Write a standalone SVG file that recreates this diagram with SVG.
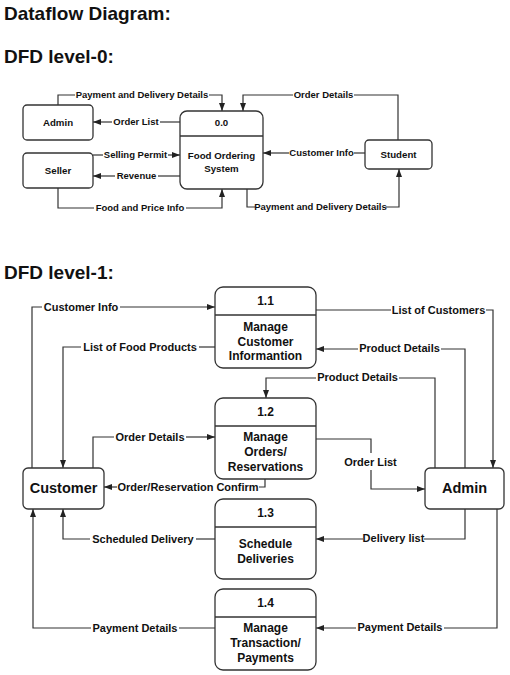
<svg xmlns="http://www.w3.org/2000/svg" width="510" height="675" viewBox="0 0 510 675">
<defs>
<marker id="arr" viewBox="0 0 8 6" refX="8" refY="3" markerWidth="8" markerHeight="6" markerUnits="userSpaceOnUse" orient="auto">
<path d="M0,0 L8,3 L0,6 Z" fill="#222"/>
</marker>
</defs>
<style>
.h{font-family:"Liberation Sans",Arial,sans-serif;font-weight:bold;font-size:19px;fill:#111}
.box{fill:#fff;stroke:#333;stroke-width:1.3}
.div{stroke:#333;stroke-width:1.3}
.n0{font-family:"Liberation Sans",Arial,sans-serif;font-weight:bold;font-size:9.7px;fill:#111;text-anchor:middle}
.n1{font-family:"Liberation Sans",Arial,sans-serif;font-weight:bold;font-size:12px;fill:#111;text-anchor:middle}
.ne{font-family:"Liberation Sans",Arial,sans-serif;font-weight:bold;font-size:14.5px;fill:#111;text-anchor:middle}
.l0{font-family:"Liberation Sans",Arial,sans-serif;font-weight:bold;font-size:9.5px;fill:#111;text-anchor:middle}
.l1{font-family:"Liberation Sans",Arial,sans-serif;font-weight:bold;font-size:11px;fill:#111;text-anchor:middle}
.c{fill:none;stroke:#333;stroke-width:1.2}
.a{marker-end:url(#arr)}
</style>
<rect width="510" height="675" fill="#fff"/>
<text class="h" x="4" y="20">Dataflow Diagram:</text>
<text class="h" x="4" y="63">DFD level-0:</text>
<text class="h" x="4" y="279">DFD level-1:</text>

<g id="connectors">
<!-- level 0 -->
<path class="c" d="M58,105 V95 H75"/><path class="c a" d="M209,95 H222 V111"/>
<text class="l0" x="142" y="98.4">Payment and Delivery Details</text>
<path class="c" d="M398,140 V95 H354"/><path class="c a" d="M293,95 H243 V111"/>
<text class="l0" x="323.5" y="98.4">Order Details</text>
<path class="c" d="M180,122 H160"/><path class="c a" d="M112,122 H93"/>
<text class="l0" x="136" y="125.4">Order List</text>
<path class="c" d="M93,155 H103"/><path class="c a" d="M168,155 H180"/>
<text class="l0" x="135.5" y="158.4">Selling Permit</text>
<path class="c" d="M180,176 H158"/><path class="c a" d="M115,176 H93"/>
<text class="l0" x="136.5" y="179.4">Revenue</text>
<path class="c" d="M58,188 V208 H94"/><path class="c a" d="M186,208 H222 V189"/>
<text class="l0" x="140" y="211.4">Food and Price Info</text>
<path class="c" d="M365,153 H354"/><path class="c a" d="M289,153 H263"/>
<text class="l0" x="321.5" y="156.4">Customer Info</text>
<path class="c" d="M247,189 V207 H255"/><path class="c a" d="M386,207 H399 V169"/>
<text class="l0" x="320.5" y="210.4">Payment and Delivery Details</text>
<!-- level 1 -->
<path class="c" d="M32,468 V307 H42"/><path class="c a" d="M120,307 H215"/>
<text class="l1" x="81" y="311">Customer Info</text>
<path class="c" d="M215,347 H199"/><path class="c a" d="M81,347 H63 V468"/>
<text class="l1" x="140" y="351">List of Food Products</text>
<path class="c" d="M93,468 V437 H114"/><path class="c a" d="M186,437 H215"/>
<text class="l1" x="150" y="441">Order Details</text>
<path class="c" d="M265,479 V487 H259"/><path class="c a" d="M117,487 H104"/>
<text class="l1" x="188" y="491">Order/Reservation Confirm</text>
<path class="c" d="M215,539 H196"/><path class="c a" d="M90,539 H63 V509"/>
<text class="l1" x="143" y="543">Scheduled Delivery</text>
<path class="c" d="M215,628 H179"/><path class="c a" d="M91,628 H33 V509"/>
<text class="l1" x="135" y="632">Payment Details</text>
<path class="c" d="M316,310 H391"/><path class="c a" d="M486,310 H493 V468"/>
<text class="l1" x="438.5" y="314">List of Customers</text>
<path class="c" d="M465,468 V349 H441"/><path class="c a" d="M358,349 H316"/>
<text class="l1" x="399.5" y="352">Product Details</text>
<path class="c" d="M435,468 V378 H399"/><path class="c a" d="M316,378 H266 V398"/>
<text class="l1" x="357.5" y="381">Product Details</text>
<path class="c" d="M316,439 H371 V453"/><path class="c a" d="M371,470 V489 H425"/>
<text class="l1" x="370.5" y="466">Order List</text>
<path class="c" d="M465,509 V539 H424"/><path class="c a" d="M363,539 H316"/>
<text class="l1" x="393.5" y="542">Delivery list</text>
<path class="c" d="M497,509 V628 H444"/><path class="c a" d="M356,628 H316"/>
<text class="l1" x="400" y="631">Payment Details</text>
</g>

<g id="admin0"><rect class="box" x="23" y="105" width="70" height="35" rx="4"/><text class="n0" x="58" y="125.5">Admin</text></g>
<g id="seller0"><rect class="box" x="23" y="153" width="70" height="35" rx="4"/><text class="n0" x="58" y="173.5">Seller</text></g>
<g id="p00"><rect class="box" x="180" y="111" width="83" height="78" rx="7"/><line class="div" x1="180" y1="136" x2="263" y2="136"/>
<text class="n0" x="221.5" y="125.5">0.0</text><text class="n0" x="221.5" y="158.5">Food Ordering</text><text class="n0" x="221.5" y="171.5">System</text></g>
<g id="student0"><rect class="box" x="365" y="140" width="67" height="29" rx="4"/><text class="n0" x="398.5" y="157.5">Student</text></g>

<g id="p11"><rect class="box" x="215" y="287" width="101" height="81" rx="8"/><line class="div" x1="215" y1="315" x2="316" y2="315"/>
<text class="n1" x="265.5" y="305">1.1</text><text class="n1" x="265.5" y="331">Manage</text><text class="n1" x="265.5" y="345.5">Customer</text><text class="n1" x="265.5" y="360">Informantion</text></g>
<g id="p12"><rect class="box" x="215" y="398" width="101" height="81" rx="8"/><line class="div" x1="215" y1="426" x2="316" y2="426"/>
<text class="n1" x="265.5" y="415.5">1.2</text><text class="n1" x="265.5" y="441">Manage</text><text class="n1" x="265.5" y="456">Orders/</text><text class="n1" x="265.5" y="470.5">Reservations</text></g>
<g id="p13"><rect class="box" x="215" y="499" width="101" height="80" rx="8"/><line class="div" x1="215" y1="527" x2="316" y2="527"/>
<text class="n1" x="265.5" y="516.5">1.3</text><text class="n1" x="265.5" y="548">Schedule</text><text class="n1" x="265.5" y="563">Deliveries</text></g>
<g id="p14"><rect class="box" x="215" y="589" width="101" height="81" rx="8"/><line class="div" x1="215" y1="617" x2="316" y2="617"/>
<text class="n1" x="265.5" y="606.5">1.4</text><text class="n1" x="265.5" y="632">Manage</text><text class="n1" x="265.5" y="647">Transaction/</text><text class="n1" x="265.5" y="662">Payments</text></g>
<g id="customer"><rect class="box" x="23" y="468" width="81" height="41" rx="5"/><text class="ne" x="63.5" y="492.5">Customer</text></g>
<g id="admin1"><rect class="box" x="425" y="468" width="79" height="41" rx="5"/><text class="ne" x="464.5" y="492.5">Admin</text></g>
</svg>
